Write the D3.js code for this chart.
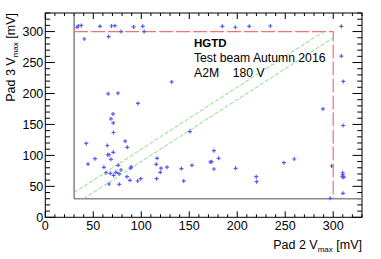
<!DOCTYPE html>
<html>
<head>
<meta charset="utf-8">
<script src="https://cdn.jsdelivr.net/npm/d3@7"></script>
<style>
  body { margin: 0; background: #fff; }
  svg { display: block; font-family: "Liberation Sans", Arial, sans-serif; }
</style>
</head>
<body>
<div id="chart"></div>
<script>
// -------- DATA --------
const pad2Vmax = [33, 34.5, 37.5, 40.6, 57, 66, 69, 72.5, 79, 92, 101.5, 103, 184.5, 198, 212.5, 234.5,
  308.5, 308.5, 310.5, 289.3, 310.3, 131.7, 65.5, 75.7, 96.6, 70.6, 68.4, 70.8, 71, 42.7, 83.2, 64.6,
  85.4, 44.5, 51.8, 65, 66.5, 70.8, 68.4, 61.1, 63.2, 76, 78.9, 73.6, 67.7, 71.2, 76.8, 66.4, 77,
  89.6, 88.8, 85.1, 88.2, 96.2, 99.4, 116.5, 115.6, 120.6, 119.8, 126.8, 116, 141.8, 144.2, 150.7,
  152.8, 175.7, 171.9, 173.3, 180.6, 175.7, 198.3, 219.8, 220.2, 248.6, 259.4, 298.3, 309.8, 310,
  310.3, 311, 309.5, 310.1, 296.9];
const pad3Vmax = [307, 309, 310, 288, 308.5, 292, 309, 309.5, 300, 307.5, 308.5, 300, 308.5, 307, 308.5, 309,
  308.5, 260.5, 219.5, 175, 148.3, 218.6, 199.5, 200.5, 184, 167, 159, 152.5, 137, 119.3, 123, 116,
  113, 86, 94.7, 101, 101, 105, 93.7, 80.8, 72, 84, 76.4, 72.7, 71, 67.8, 70.4, 53.8, 53.3,
  81.5, 79.5, 65.6, 59.8, 58.6, 62.4, 95.3, 85.6, 79.4, 72.6, 81, 62.4, 78.7, 58.8, 138.5,
  84, 107.6, 89.3, 89.8, 95.3, 78, 79.1, 65.6, 57.5, 88.2, 94.2, 82.9, 72, 68.8,
  65.6, 64.6, 65.6, 38.8, 30.7];

const axisDomain = [0, 330];
const majorTicks = [0, 50, 100, 150, 200, 250, 300];
const cutLow = 30, cutHigh = 300;       // cut box
const bandLines = [[[30, 40], [290, 300]], [[40, 30], [300, 290]]];  // y = x +/- 10
const labelLines = ["Test beam Autumn 2016"];

// -------- LAYOUT --------
const width = 381, height = 259;
const margins = {top: 13, right: 19, bottom: 42, left: 45};

const svg = d3.select("#chart").append("svg")
  .attr("width", width).attr("height", height);

const x = d3.scaleLinear().domain(axisDomain).range([margins.left + 0.3, width - margins.right]);
const y = d3.scaleLinear().domain(axisDomain).range([height - margins.bottom + 0.3, margins.top]);

const minorTicks = d3.range(0, 331, 10);

// -------- AXES (ROOT style, ticks inside) --------
const frameG = svg.append("g");
const x0 = x(0), x1 = x(330), y0 = y(0), y1 = y(330);

function tickLen(v, major) { return majorTicks.includes(v) ? major : major / 2; }

// bottom + top
frameG.selectAll(".xt").data(minorTicks).join("path")
  .attr("d", d => `M${x(d)},${y0}v${-tickLen(d, 6)}M${x(d)},${y1}v${tickLen(d, 6)}`)
  .attr("stroke", "#000").attr("stroke-width", 1);
// left + right
frameG.selectAll(".yt").data(minorTicks).join("path")
  .attr("d", d => `M${x0},${y(d)}h${tickLen(d, 9.5)}M${x1},${y(d)}h${-tickLen(d, 9.5)}`)
  .attr("stroke", "#000").attr("stroke-width", 1);

frameG.append("rect")
  .attr("x", x0).attr("y", y1).attr("width", x1 - x0).attr("height", y0 - y1)
  .attr("fill", "none").attr("stroke", "#000").attr("stroke-width", 1);

// tick labels
svg.append("g").selectAll("text").data(majorTicks).join("text")
  .attr("x", d => x(d)).attr("y", y0 + 13)
  .attr("text-anchor", "middle").attr("font-size", 12.5)
  .text(d => d);
svg.append("g").selectAll("text").data(majorTicks).join("text")
  .attr("x", x0 - 2).attr("y", d => y(d) + 4.5)
  .attr("text-anchor", "end").attr("font-size", 12.5)
  .text(d => d);

// axis titles
const xt = svg.append("text")
  .attr("x", x1).attr("y", 249)
  .attr("text-anchor", "end").attr("font-size", 12.5);
xt.append("tspan").text("Pad 2 V");
xt.append("tspan").attr("font-size", 8).attr("dy", 3).text("max");
xt.append("tspan").attr("dy", -3).text(" [mV]");

const yt = svg.append("text")
  .attr("transform", `translate(15, ${y1}) rotate(-90)`)
  .attr("text-anchor", "end").attr("font-size", 12.5);
yt.append("tspan").text("Pad 3 V");
yt.append("tspan").attr("font-size", 8).attr("dy", 3).text("max");
yt.append("tspan").attr("dy", -3).text(" [mV]");

// -------- CUT LINES --------
const linesG = svg.append("g");
linesG.append("line")
  .attr("x1", x(cutLow)).attr("y1", y(cutLow)).attr("x2", x(330)).attr("y2", y(cutLow))
  .attr("stroke", "#8a8a8a").attr("stroke-width", 1.5);
linesG.append("line")
  .attr("x1", x(cutLow)).attr("y1", y(cutLow)).attr("x2", x(cutLow)).attr("y2", y(330))
  .attr("stroke", "#444").attr("stroke-width", 1);

linesG.append("path")
  .attr("d", `M${x(cutLow)},${y(cutHigh)}H${x(cutHigh)}V${y(cutLow)}`)
  .attr("fill", "none").attr("stroke", "#f27272").attr("stroke-width", 1.2)
  .attr("stroke-dasharray", "14,3");

linesG.selectAll(".band").data(bandLines).join("line")
  .attr("x1", d => x(d[0][0])).attr("y1", d => y(d[0][1]))
  .attr("x2", d => x(d[1][0])).attr("y2", d => y(d[1][1]))
  .attr("stroke", "#7be07b").attr("stroke-width", 1)
  .attr("stroke-dasharray", "4,2");

// -------- POINTS --------
svg.append("g").selectAll("path").data(pad2Vmax).join("path")
  .attr("transform", (d, i) => `translate(${x(d)},${y(pad3Vmax[i])})`)
  .attr("d", "M-2,0H2M0,-2V2")
  .attr("stroke", "#5a5af0").attr("stroke-width", 1.2);

// -------- LABEL --------
const labG = svg.append("g").attr("font-size", 12.2);
labG.append("text").attr("x", 194).attr("y", 46.7).attr("font-weight", "bold").attr("font-size", 11.5).text("HGTD");
labG.selectAll(".ln").data(labelLines).join("text")
  .attr("x", 194).attr("y", 61.7).text(d => d);
labG.append("text").attr("x", 194).attr("y", 77.3).text("A2M");
labG.append("text").attr("x", 232.7).attr("y", 77.3).text("180 V");
</script>
</body>
</html>
